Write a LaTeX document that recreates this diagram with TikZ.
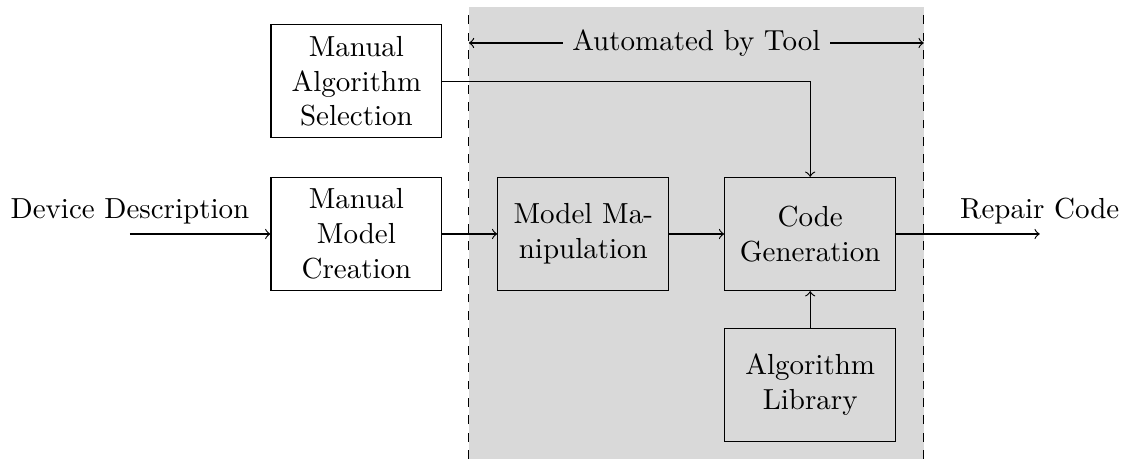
\documentclass[tikz,border=0pt]{standalone}
\usepackage{tikz}
\usetikzlibrary{positioning}
\usetikzlibrary{calc}
\usetikzlibrary{backgrounds}

\begin{document}
\begin{tikzpicture}[block/.style={draw, rectangle, minimum width=2.07cm, minimum height=1.37cm, inner sep=2pt},
			every text node part/.style={align=center}]
			\useasboundingbox (-4.32, -2.727) rectangle (9.34, 2.836);
			
			% automated region
			\fill[gray!30] (1.363, -2.727) rectangle (6.877, 2.751);
			\draw[dashed] (1.363, -2.727) -- (1.363, 2.751);
			\draw[dashed] (6.877, -2.727) -- (6.877, 2.751);
			\coordinate (autoL) at (1.363, 2.315);
			\coordinate (autoR) at (6.877, 2.315);
			\draw[<->] (autoL) -- node[fill=gray!30]{Automated by Tool} (autoR);
			
			\node[block](selection) at (0, 1.85) {Manual\\Algorithm\\Selection};
			\node[block](creation) at (0, 0) {Manual\\Model\\Creation};
			\node[block](manipulation) at (2.75, 0) {Model Ma-\\nipulation};
			\node[block](generation) at (5.5, 0) {Code\\Generation};
			\node[block](library) at (5.5, -1.83) {Algorithm\\Library};
			
			\coordinate (input) at (-2.745, 0);
			\coordinate (output) at (8.283, 0);
			
			\draw[->] (input) node[above]{Device Description} -- (creation.west);
			\draw[->] (creation) -- (manipulation);
			\draw[->] (manipulation) -- (generation);
			\draw[->] (selection.east) -| (generation.north);
			\draw[->] (library) -- (generation);
			\draw[->] (generation.east) -- (output) node[above]{Repair Code};
		\end{tikzpicture}
\end{document}
